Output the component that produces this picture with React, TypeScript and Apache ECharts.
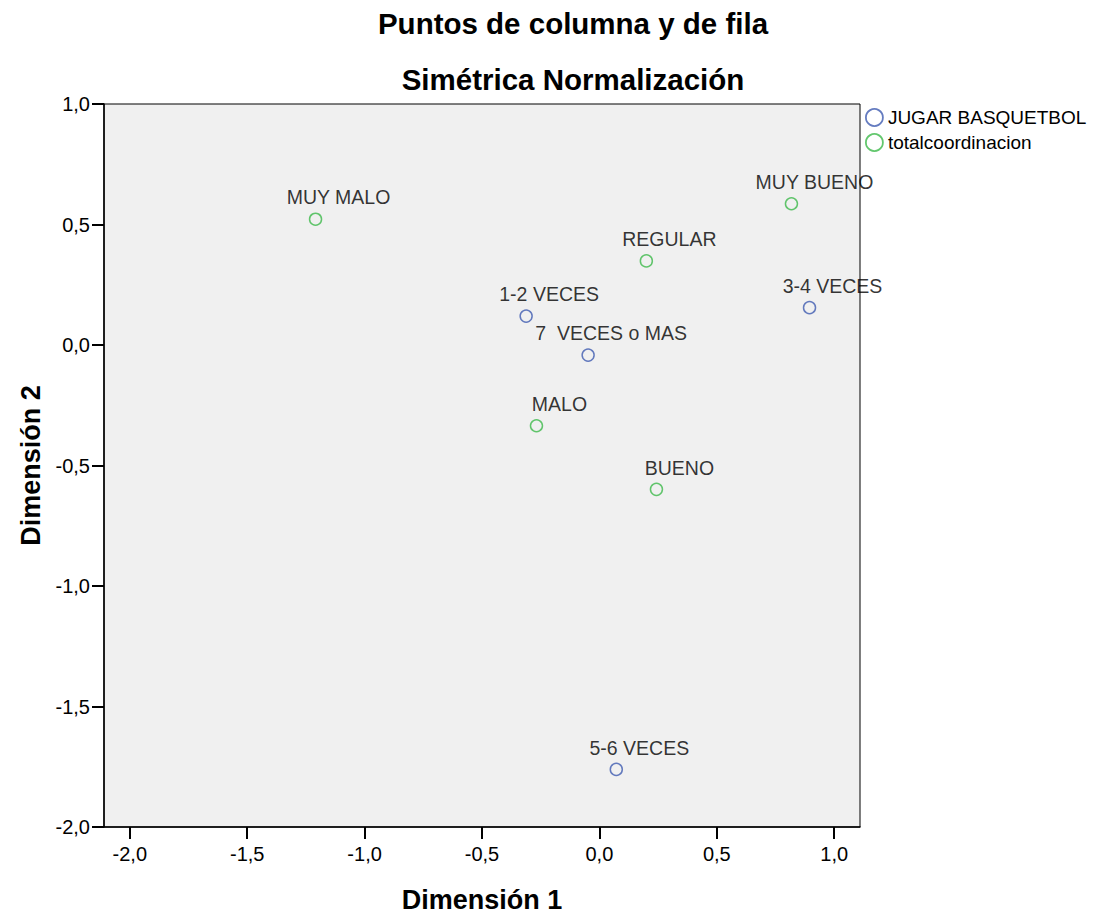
import React, { useEffect, useRef } from "react";
import * as echarts from "echarts";

const titleLines = ["Puntos de columna y de fila", "Simétrica Normalización"];
const xTicks = [-2.0, -1.5, -1.0, -0.5, 0.0, 0.5, 1.0];

const basketNames = ["1-2 VECES", "3-4 VECES", "5-6 VECES", "7  VECES o MAS"];
const basketX = [-0.312, 0.895, 0.072, -0.048];
const basketY = [0.12, 0.155, -1.761, -0.042];

const coordNames = ["MUY MALO", "MALO", "REGULAR", "BUENO", "MUY BUENO"];
const coordX = [-1.209, -0.268, 0.2, 0.243, 0.818];
const coordY = [0.522, -0.335, 0.349, -0.599, 0.586];

const FONT = "'Liberation Sans', Arial, sans-serif";
const BLUE = "#3f5bb0";
const GREEN = "#3cb94a";

const fmt = (v: number) => v.toFixed(1).replace(".", ",");

export default function App() {
  const ref = useRef<HTMLDivElement>(null);
  useEffect(() => {
    if (!ref.current) return;
    const chart = echarts.init(ref.current, null, { renderer: "svg" });
    const mk = (names: string[], xs: number[], ys: number[]) =>
      names.map((n, i) => [xs[i], ys[i], n]);
    const labelCfg = {
      show: true,
      position: "top",
      distance: 5,
      offset: [23, 0],
      color: "#000",
      fontFamily: FONT,
      fontSize: 19.5,
      formatter: (p: any) => p.data[2],
    };
    chart.setOption({
      animation: false,
      backgroundColor: "#fff",
      title: [
        {
          text: titleLines[0],
          left: 568,
          top: 3,
          textAlign: "center",
          textStyle: { fontFamily: FONT, fontSize: 29.5, fontWeight: "bold", color: "#000" },
        },
        {
          text: titleLines[1],
          left: 568,
          top: 59,
          textAlign: "center",
          textStyle: { fontFamily: FONT, fontSize: 29.5, fontWeight: "bold", color: "#000" },
        },
      ],
      legend: {
        orient: "vertical",
        left: 865,
        top: 108,
        padding: 0,
        itemWidth: 17,
        itemHeight: 17,
        itemGap: 6,
        textStyle: { fontFamily: FONT, fontSize: 19, color: "#000" },
        data: [
          { name: "JUGAR BASQUETBOL", icon: "circle", itemStyle: { color: "transparent", borderColor: BLUE, borderWidth: 1.8 } },
          { name: "totalcoordinacion", icon: "circle", itemStyle: { color: "transparent", borderColor: GREEN, borderWidth: 1.8 } },
        ],
      },
      grid: {
        left: 104,
        right: 236,
        top: 104,
        bottom: 84,
        show: true,
        backgroundColor: "#f0f0f0",
        borderColor: "#000",
        borderWidth: 1,
      },
      xAxis: {
        type: "value",
        min: -2.11,
        max: 1.11,
        name: "Dimensión 1",
        nameLocation: "middle",
        nameGap: 59,
        nameTextStyle: { fontFamily: FONT, fontSize: 27, fontWeight: "bold", color: "#000" },
        axisLine: { show: true, onZero: false, lineStyle: { color: "#000", width: 1.5 } },
        axisTick: { show: true, length: 12, customValues: xTicks, lineStyle: { color: "#000", width: 2 } },
        axisLabel: {
          customValues: xTicks,
          formatter: (v: number) => fmt(v),
          fontFamily: FONT,
          fontSize: 20,
          color: "#000",
          margin: 17,
        },
        splitLine: { show: false },
      },
      yAxis: {
        type: "value",
        min: -2,
        max: 1,
        interval: 0.5,
        name: "Dimensión 2",
        nameLocation: "middle",
        nameGap: 57,
        nameTextStyle: { fontFamily: FONT, fontSize: 27, fontWeight: "bold", color: "#000" },
        axisLine: { show: true, onZero: false, lineStyle: { color: "#000", width: 1.5 } },
        axisTick: { show: true, length: 12, lineStyle: { color: "#000", width: 2 } },
        axisLabel: {
          formatter: (v: number) => fmt(v),
          fontFamily: FONT,
          fontSize: 20,
          color: "#000",
          margin: 14,
        },
        splitLine: { show: false },
      },
      series: [
        {
          name: "JUGAR BASQUETBOL",
          type: "scatter",
          symbol: "circle",
          symbolSize: 12,
          itemStyle: { color: "transparent", borderColor: BLUE, borderWidth: 1.5 },
          label: labelCfg,
          data: mk(basketNames, basketX, basketY),
        },
        {
          name: "totalcoordinacion",
          type: "scatter",
          symbol: "circle",
          symbolSize: 12,
          itemStyle: { color: "transparent", borderColor: GREEN, borderWidth: 1.5 },
          label: labelCfg,
          data: mk(coordNames, coordX, coordY),
        },
      ],
    });
    return () => chart.dispose();
  }, []);
  return <div ref={ref} style={{ width: 1096, height: 918, position: "absolute", left: 0, top: 0 }} />;
}
